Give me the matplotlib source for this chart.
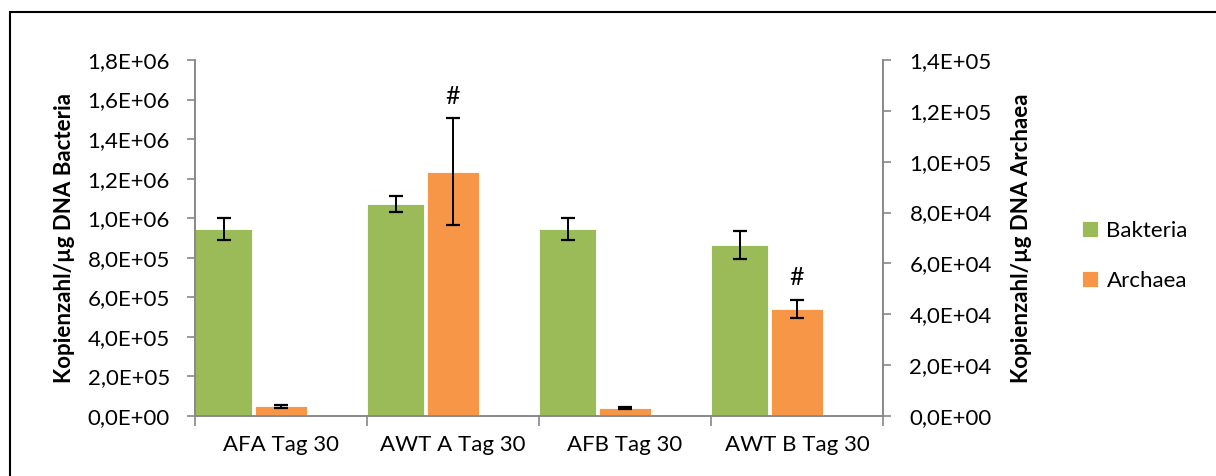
import numpy as np
import matplotlib.pyplot as plt
from matplotlib.ticker import FuncFormatter, FixedLocator
from matplotlib.patches import Rectangle

plt.rcParams['font.family'] = ['Lato', 'DejaVu Sans']

# Data
categories = ["AFA Tag 30", "AWT A Tag 30", "AFB Tag 30", "AWT B Tag 30"]
bakteria = [9.45e5, 1.072e6, 9.45e5, 8.65e5]
bakteria_err = [5.6e4, 4.2e4, 5.5e4, 7.0e4]
archaea = [3.9e3, 9.6e4, 3.1e3, 4.21e4]
archaea_err = [0.6e3, 2.1e4, 0.3e3, 3.5e3]
archaea_mark = ["", "#", "", "#"]

green = "#9BBB59"
orange = "#F79646"
spine_gray = "#888888"
fs = 16

fig = plt.figure(figsize=(12.16, 4.76), dpi=100)
ax = fig.add_axes([195 / 1216, 60 / 476, 688 / 1216, 356 / 476])
ax2 = ax.twinx()

x = np.arange(len(categories))
w_b = 0.333
w_a = 0.305

ax.bar(x - 0.5, bakteria, width=w_b, align="edge", color=green,
       edgecolor="white", linewidth=0.6, label="Bakteria", zorder=2)
ax.errorbar(x - 0.5 + w_b / 2, bakteria, yerr=bakteria_err, fmt="none",
            ecolor="black", elinewidth=1.4, capsize=5, capthick=1.6, zorder=3)

ax2.bar(x, archaea, width=w_a, color=orange, edgecolor="white",
        linewidth=0.6, label="Archaea", zorder=2)
ax2.errorbar(x, archaea, yerr=archaea_err, fmt="none",
             ecolor="black", elinewidth=1.4, capsize=5, capthick=1.6, zorder=3)
for xi, v, e, m in zip(x, archaea, archaea_err, archaea_mark):
    if m:
        ax2.annotate(m, (xi, v + e), xytext=(0, 16), textcoords="offset points",
                     ha="center", va="center", fontsize=fs + 2)

ax.set_xlim(-0.5, 3.5)
ax.set_ylim(0, 1.8e6)
ax2.set_ylim(0, 1.4e5)
ax.set_yticks(np.arange(0, 1.8e6 + 1, 2e5))
ax2.set_yticks(np.arange(0, 1.4e5 + 1, 2e4))

fmt = FuncFormatter(lambda v, p: f"{v:.1E}".replace(".", ","))
ax.yaxis.set_major_formatter(fmt)
ax2.yaxis.set_major_formatter(fmt)

ax.set_xticks(x)
ax.set_xticklabels(categories)
ax.xaxis.set_minor_locator(FixedLocator(np.arange(-0.5, 3.6, 1)))
ax.tick_params(axis="x", which="major", length=0, pad=14, labelsize=fs)
ax.tick_params(axis="x", which="minor", length=7, color=spine_gray, width=1.2)
ax.tick_params(axis="y", length=6, color=spine_gray, width=1.2, labelsize=fs, pad=12)
ax2.tick_params(axis="y", length=6, color=spine_gray, width=1.2, labelsize=fs, pad=13)

for a in (ax, ax2):
    a.spines["top"].set_visible(False)
    for s in ("left", "right", "bottom"):
        a.spines[s].set_color(spine_gray)
        a.spines[s].set_linewidth(1.2)

ax.set_ylabel("Kopienzahl/µg DNA Bacteria", fontsize=fs, fontweight="bold", labelpad=9)
ax2.set_ylabel("Kopienzahl/µg DNA Archaea", fontsize=fs, fontweight="bold", labelpad=14)

h1, l1 = ax.get_legend_handles_labels()
h2, l2 = ax2.get_legend_handles_labels()
fig.legend(h1 + h2, l1 + l2, loc="center left", bbox_to_anchor=(1062 / 1216, 1 - 256 / 476),
           frameon=False, fontsize=fs, handlelength=0.7, handleheight=0.7,
           handletextpad=0.4, labelspacing=1.35)

fig.patches.append(Rectangle((10 / 1216, -0.1), 1.2, 1 - 11.5 / 476 + 0.1,
                             transform=fig.transFigure, fill=False,
                             edgecolor="black", linewidth=1.5))

plt.savefig("out.png", dpi=100)
